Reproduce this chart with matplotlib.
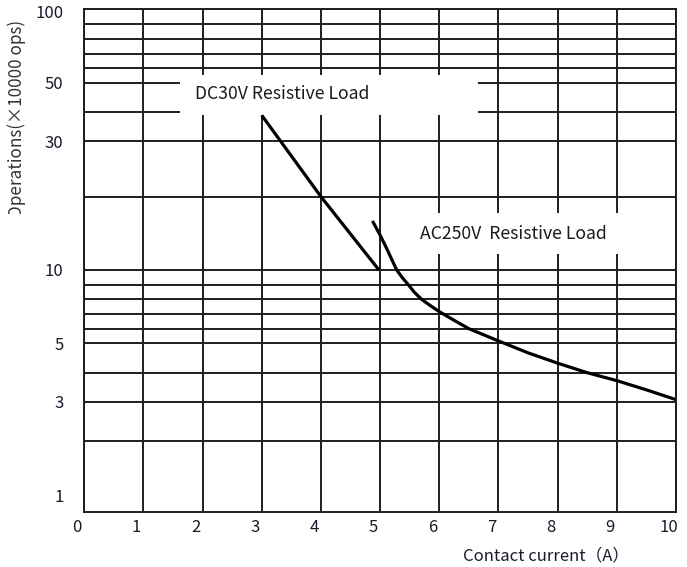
import numpy as np
import matplotlib
matplotlib.use("Agg")
import matplotlib.pyplot as plt
from matplotlib.patches import Rectangle
from matplotlib.transforms import ScaledTranslation, Bbox, TransformedBbox

plt.rcParams['font.family'] = ['Noto Sans CJK SC', 'DejaVu Sans']

# ---------------- data ----------------
dc_current = [3.0, 4.0, 4.98]
dc_ops = [38.7, 20.0, 10.0]

ac_current = [4.87, 5.0, 5.1, 5.2, 5.28, 5.38, 5.48, 5.58, 5.7, 5.85, 6.0, 6.25, 6.5,
              7.0, 7.5, 8.0, 8.5, 9.0, 9.5, 10.0]
ac_ops = [15.9, 13.9, 12.4, 11.0, 10.0, 9.45, 9.0, 8.47, 8.0, 7.55, 7.15, 6.55, 6.0,
          5.15, 4.65, 4.3, 4.0, 3.7, 3.38, 3.07]

x_ticks = list(range(0, 11))
y_tick_vals = [100, 50, 30, 10, 5, 3, 1]
y_tick_labels = ['100', '50', '30', '10', '5', '3', '1']
h_grid_vals = [100, 90, 80, 70, 60, 50, 40, 30, 20, 10, 9, 8, 7, 6, 5, 4, 3, 2]

dc_label = "DC30V Resistive Load"
ac_label = "AC250V  Resistive Load"
x_label = "Contact current（A）"
y_label = "Operations(×10000 ops)"

# ------------- non-uniform chart paper scale (value -> relative height) -------------
knot_vals = np.array([0.8, 1, 2, 3, 4, 5, 6, 7, 8, 9, 10, 20, 30, 40, 50, 60, 70, 80, 90, 100])
knot_h = np.array([0.0, 16.7, 70.7, 109.7, 139.0, 168.4, 183.0, 197.7, 212.4, 226.7, 241.7,
                   315.0, 370.4, 399.7, 429.0, 443.4, 458.0, 472.7, 487.4, 502.4])
knot_log = np.log10(knot_vals)


def fwd(v):
    v = np.asarray(v, dtype=float)
    lv = np.log10(np.clip(v, 1e-6, None))
    h = np.interp(lv, knot_log, knot_h)
    h = np.where(lv < knot_log[0], knot_h[0] + (lv - knot_log[0]) * 170.0, h)
    h = np.where(lv > knot_log[-1], knot_h[-1] + (lv - knot_log[-1]) * 320.0, h)
    return h


def inv(h):
    h = np.asarray(h, dtype=float)
    lv = np.interp(h, knot_h, knot_log)
    lv = np.where(h < knot_h[0], knot_log[0] + (h - knot_h[0]) / 170.0, lv)
    lv = np.where(h > knot_h[-1], knot_log[-1] + (h - knot_h[-1]) / 320.0, lv)
    return 10 ** lv


W, H = 687, 567
fig = plt.figure(figsize=(W / 100, H / 100), dpi=100)
ax = fig.add_axes([84.3 / W, 1 - 511.7 / H, (676 - 84.3) / W, (511.7 - 9.3) / H])
ax.set_yscale('function', functions=(fwd, inv))
ax.set_xlim(0, 10)
ax.set_ylim(0.8, 100)

grid_kw = dict(color='#1e1e1e', lw=1.4, zorder=0.5)
for v in h_grid_vals:
    ax.axhline(v, **grid_kw)
for v in x_ticks:
    ax.axvline(v, **grid_kw)

# white label boxes covering the grid
ax.add_patch(Rectangle((1.62, 39.0), 6.65 - 1.62, 55.3 - 39.0, facecolor='white',
                       edgecolor='none', zorder=1))
ax.add_patch(Rectangle((5.42, 11.6), 9.39 - 5.42, 17.1 - 11.6, facecolor='white',
                       edgecolor='none', zorder=1))

ax.text(1.87, 46.0, dc_label, fontsize=12.7, color='#1a1a1a', ha='left', va='center', zorder=3)
ax.text(5.67, 14.0, ac_label, fontsize=12.7, color='#1a1a1a', ha='left', va='center', zorder=3)

ax.plot(dc_current, dc_ops, color='black', lw=2.3, solid_capstyle='butt', zorder=2)
ax.plot(ac_current, ac_ops, color='black', lw=2.3, solid_capstyle='butt',
        solid_joinstyle='round', zorder=2)

for s in ax.spines.values():
    s.set_color('#1e1e1e')
    s.set_linewidth(1.4)

ax.set_xticks(x_ticks)
ax.set_xticklabels([str(v) for v in x_ticks])
ax.set_yticks(y_tick_vals)
ax.set_yticklabels(y_tick_labels)
ax.minorticks_off()
ax.tick_params(axis='both', length=0, labelsize=12, colors='#1a1a2a')
ax.tick_params(axis='y', pad=15)
ax.tick_params(axis='x', pad=5)

off = ScaledTranslation(-7 / 100, 0, fig.dpi_scale_trans)
for lab in ax.get_xticklabels():
    lab.set_transform(lab.get_transform() + off)
ylabs = ax.get_yticklabels()
ylabs[0].set_verticalalignment('top')
ylabs[0].set_transform(ylabs[0].get_transform() + ScaledTranslation(0, 4 / 100, fig.dpi_scale_trans))

fig.text(546 / W, 1 - 556 / H, x_label, fontsize=12, color='#1a1a2a', ha='center', va='center')
yl = fig.text(17 / W, 1 - 119 / H, y_label, fontsize=12.3, color='#333333', rotation=90,
              ha='center', va='center')
yl.set_clip_box(TransformedBbox(Bbox.from_extents(0, 1 - 214 / H, 1, 1), fig.transFigure))
yl.set_clip_on(True)

fig.savefig('out.png', dpi=100)
